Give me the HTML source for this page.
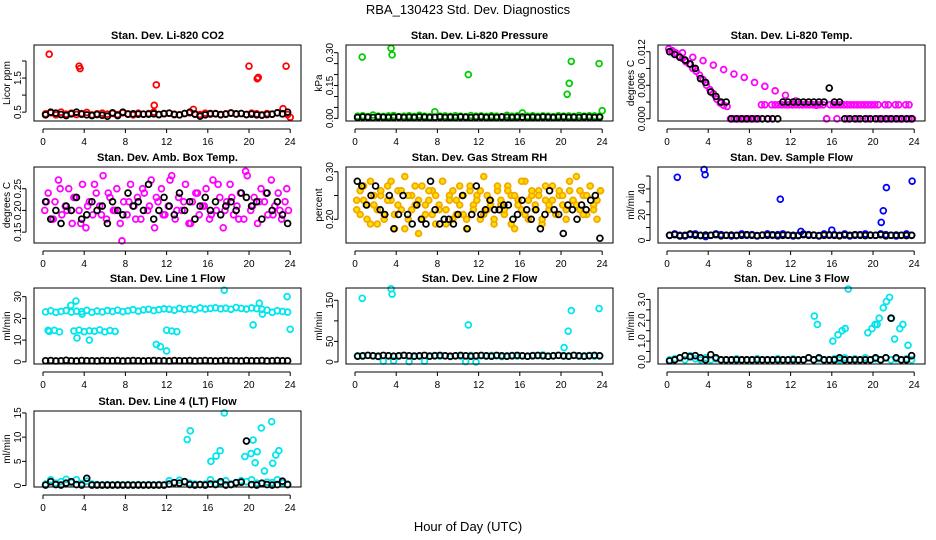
<!DOCTYPE html>
<html><head><meta charset="utf-8"><style>
html,body{margin:0;padding:0;background:#fff;}
svg{display:block;font-family:"Liberation Sans",sans-serif;}
</style></head><body>
<svg id="c" width="936" height="540" viewBox="0 0 936 540" xmlns="http://www.w3.org/2000/svg">
<text x="468" y="14" text-anchor="middle" font-size="13">RBA_130423  Std. Dev. Diagnostics</text>
<text x="468" y="531" text-anchor="middle" font-size="13">Hour of Day (UTC)</text>
</svg>
<script>
// ---- data (uniformly sampled over 0-24 h unless x given) ----
const co2Red=[0.45,0.48,0.42,0.5,0.44,0.47,0.43,0.46,0.49,0.42,0.45,0.47,0.44,0.46,0.43,0.48,0.45,0.42,0.47,0.44,0.46,0.5,0.43,0.45,0.47,0.44,0.42,0.46,0.48,0.45,0.43,0.47,0.44,0.46,0.42,0.45,0.48,0.44,0.46,0.43,0.47,0.45,0.42,0.46,0.44,0.48,0.45,0.43];
const co2OutX=[0.6,3.5,3.6,11,10.8,20,20.8,20.9,23.6,14.6,23.3,24];
const co2OutY=[2.2,1.85,1.78,1.3,0.7,1.85,1.48,1.52,1.85,0.58,0.6,0.35];
const co2Blk=[0.42,0.5,0.47,0.43,0.4,0.45,0.5,0.44,0.42,0.4,0.43,0.41,0.38,0.48,0.4,0.5,0.44,0.45,0.44,0.44,0.44,0.45,0.43,0.46,0.47,0.43,0.42,0.46,0.5,0.44,0.38,0.42,0.46,0.45,0.43,0.44,0.47,0.45,0.46,0.43,0.44,0.42,0.41,0.43,0.44,0.48,0.45,0.5];
const presGrn=[0.01,0.012,0.008,0.015,0.01,0.009,0.011,0.013,0.008,0.01,0.012,0.009,0.014,0.01,0.008,0.03,0.01,0.011,0.009,0.012,0.01,0.008,0.013,0.01,0.011,0.009,0.012,0.01,0.008,0.014,0.01,0.011,0.025,0.01,0.012,0.009,0.011,0.01,0.008,0.012,0.01,0.011,0.009,0.013,0.01,0.012,0.011,0.01];
const presOutX=[0.7,3.5,3.6,11,20.6,20.8,21,23.7,24];
const presOutY=[0.28,0.32,0.29,0.20,0.11,0.16,0.26,0.25,0.035];
const presBlk=[0.004,0.006,0.005,0.004,0.006,0.005,0.004,0.005,0.006,0.004,0.005,0.004,0.006,0.005,0.004,0.005,0.006,0.004,0.005,0.004,0.006,0.005,0.004,0.005,0.006,0.004,0.005,0.004,0.006,0.005,0.004,0.005,0.006,0.004,0.005,0.004,0.006,0.005,0.004,0.005,0.006,0.004,0.005,0.004,0.006,0.005,0.004,0.005];
const tempMag=[0.0125,0.012,0.0118,0.0112,0.0108,0.0102,0.0098,0.009,0.0085,0.0078,0.007,0.006,0.0052,0.0045,0.0035,0.0028,0.0024,0.0022,0,0,0,0,0,0,0,0,0,0.0025,0.0025,0,0.0025,0.0025,0.0025,0.0025,0.0025,0.0025,0.0025,0.0025,0.0025,0.0025,0.0025,0.0025,0.0025,0.0025,0.0025,0.0025,0,0.0025,0.0025,0.0025,0.0025,0.0025,0.0025,0.0025,0.0025,0.0025,0.0025,0.0025,0.0025,0.0025,0.0025,0.0025,0,0.0025,0.0025,0,0.0025,0.0025,0,0.0025,0.0025,0];
const tempMag2=[0.0122,0.0118,0.011,0.0104,0.0096,0.0088,0.008,0.0074,0.0065,0.0058,0.005,0.0042,0.0032,0.0026,0.0024,0,0,0,0,0,0,0,0,0];
const tempBlk=[0.012,0.0115,0.011,0.0105,0.0098,0.009,0.0072,0.0065,0.0048,0.004,0.003,0.003,0,0,0,0,0,0,0,0,0,0,0.003,0.003,0.003,0.003,0.003,0.003,0.003,0.003,0.003,0.0055,0.003,0.003,0,0,0,0,0,0,0,0,0,0,0,0,0,0];
const ambMag=[0.2,0.24,0.18,0.22,0.27,0.19,0.21,0.25,0.17,0.23,0.2,0.26,0.16,0.22,0.19,0.24,0.21,0.28,0.18,0.23,0.2,0.25,0.17,0.22,0.19,0.26,0.21,0.23,0.18,0.24,0.2,0.27,0.16,0.22,0.25,0.19,0.21,0.28,0.18,0.23,0.2,0.26,0.17,0.22,0.24,0.19,0.21,0.25,0.18,0.27,0.2,0.23,0.16,0.22,0.26,0.19,0.21,0.24,0.18,0.28,0.2,0.23,0.17,0.25,0.22,0.19,0.27,0.21,0.24,0.18,0.22,0.2];
const ambMag2=[0.22,0.18,0.25,0.2,0.23,0.17,0.21,0.26,0.19,0.24,0.2,0.13,0.22,0.18,0.25,0.21,0.23,0.19,0.27,0.2,0.22,0.17,0.24,0.21,0.19,0.26,0.2,0.23,0.18,0.29,0.21,0.22,0.24,0.19,0.2,0.25];
const ambBlk=[0.22,0.18,0.2,0.17,0.21,0.2,0.23,0.18,0.19,0.22,0.2,0.21,0.17,0.22,0.2,0.19,0.24,0.21,0.22,0.2,0.26,0.18,0.2,0.23,0.21,0.19,0.24,0.2,0.22,0.18,0.21,0.23,0.2,0.22,0.19,0.21,0.22,0.2,0.24,0.23,0.21,0.22,0.18,0.24,0.2,0.22,0.19,0.17];
const rhYel=[0.22,0.26,0.24,0.2,0.28,0.23,0.19,0.25,0.21,0.27,0.24,0.18,0.26,0.22,0.29,0.2,0.25,0.23,0.17,0.27,0.21,0.24,0.26,0.19,0.23,0.28,0.22,0.25,0.2,0.24,0.27,0.21,0.18,0.26,0.23,0.25,0.2,0.29,0.22,0.24,0.19,0.26,0.23,0.21,0.27,0.25,0.18,0.24,0.22,0.28,0.2,0.25,0.23,0.26,0.19,0.24,0.22,0.27,0.21,0.25,0.23,0.2,0.26,0.24,0.29,0.22,0.25,0.21,0.27,0.23,0.2,0.26];
const rhYel2=[0.24,0.21,0.27,0.23,0.19,0.25,0.22,0.26,0.2,0.24,0.28,0.21,0.23,0.26,0.18,0.25,0.22,0.27,0.24,0.2,0.23,0.26,0.21,0.25,0.22,0.28,0.19,0.24,0.26,0.21,0.23,0.25,0.2,0.27,0.22,0.24,0.26,0.21,0.25,0.23,0.2,0.27,0.24,0.22,0.26,0.19,0.25,0.23,0.28,0.21,0.24,0.26,0.22,0.25,0.2,0.27,0.23,0.24,0.21,0.26,0.25,0.22,0.28,0.24,0.23,0.26,0.21,0.25,0.27,0.22,0.24,0.26];
const rhBlk=[0.28,0.27,0.23,0.25,0.27,0.22,0.21,0.25,0.18,0.21,0.25,0.21,0.19,0.23,0.2,0.19,0.28,0.22,0.19,0.2,0.2,0.19,0.21,0.25,0.18,0.21,0.27,0.21,0.22,0.24,0.22,0.22,0.23,0.23,0.2,0.21,0.24,0.22,0.2,0.22,0.18,0.21,0.26,0.22,0.21,0.17,0.23,0.22,0.2,0.23,0.22,0.24,0.25,0.16];
const flowBlu=[4,5,4,3.5,4.5,5,4,3,4,5,4.5,4,3.5,4,5,4,4.5,3.5,4,5,4,4.5,5,4,3.5,4,5,4.5,4,3.5,5,4,4.5,4,5,3.5,4,4.5,5,4,4,5,4.5,4,3.5,4,5,4];
const flowOutX=[1,3.6,3.7,11,20.8,21,21.3,23.8,16,13];
const flowOutY=[49,55,51,32,14,23,41,46,8,7];
const flowBlk=[4,4.5,3.5,4,5,4,3.8,4.2,4,4.5,3.6,4,4.2,3.8,4,4.5,4,3.8,4.2,4,4.4,3.6,4,4.2,4,3.8,4.5,4,4.2,3.8,4,4.4,4,3.6,4.2,4,4.5,4,3.8,4.2,4,4.4,3.6,4,4.2,4,3.8,4];
const l1Cyan=[23,23.5,22.8,23.2,23.6,22.9,23.3,23.1,23.7,22.8,23.4,23,23.6,23.2,23.8,23.1,23.5,24,23.3,23.9,24.2,23.6,24,24.4,24.2,23.8,24.6,24.1,24.5,24,24.8,24.3,24.6,24.9,24.4,24.7,24.2,25,24.6,24.3,24.8,24.5,24.2,23.8,22.8,23.5,23.2,22.9];
const l1CyanLow=[14,14.5,13.8,14.2,14.6,13.9,14.3,14.1,14.7,13.8,14.4,14,14.6,14.2,13.9];
const l1LowX=[0.6,1.1,1.6,3,3.5,4,4.5,5,5.5,6,6.5,7,12,12.5,13];
const l1OutX=[0.5,2.7,3.2,3.8,11,11.4,12,17.6,20.4,21,21.3,23.7,24,4.5,3.3];
const l1OutY=[14.5,26,28,22,8,7,5,33,17,27,22,30,15,10,11];
const l1Blk=[0.5,0.6,0.4,0.5,0.7,0.5,0.4,0.6,0.5,0.5,0.4,0.6,0.5,0.5,0.6,0.4,0.5,0.6,0.5,0.4,0.5,0.6,0.5,0.5,0.4,0.6,0.5,0.5,0.6,0.4,0.5,0.6,0.5,0.4,0.5,0.6,0.5,0.5,0.4,0.6,0.5,0.5,0.6,0.4,0.5,0.6,0.5,0.5];
const l2Cyan=[15,14,16,15,13,2,15,3,14,16,1,15,14,2,15,16,14,15,13,15,14,1,16,0,15,14,16,15,13,15,16,14,15,14,16,15,17,14,15,16,14,15,16,14,15,16,14,15];
const l2OutX=[0.7,3.5,3.6,11,20.3,20.7,21,23.7];
const l2OutY=[155,178,165,90,35,75,125,130];
const l2Blk=[14,15,16,15,14,16,15,14,15,16,15,14,15,16,14,15,16,15,14,15,16,15,14,15,16,15,14,16,15,14,15,16,15,14,15,16,15,14,15,16,15,14,16,15,14,15,16,15];
const l3Cyan=[0.1,0.15,0.2,0.1,0.3,0.15,0.1,0.2,0.1,0.15,0.1,0.1,0.1,0.15,0.1,0.1,0.1,0.15,0.1,0.1,0.1,0.15,0.1,0.1,0.15,0.1,0.1,0.2,0.1,0.15,0.1,0.1,0.15,0.1,0.2,0.1,0.15,0.1,0.2,0.1,0.15,0.1,0.2,0.1,0.15,0.1,0.15,0.1];
const l3OutX=[14.3,14.6,16.1,16.6,17,17.3,17.6,19.5,19.9,20.2,20.4,20.6,21,21.3,21.6,21.8,22.1,22.6,22.9,23.4];
const l3OutY=[2.2,1.8,1.0,1.3,1.5,1.6,3.5,1.4,1.6,1.8,1.8,2.1,2.6,2.9,3.1,2.1,1.1,1.6,1.8,0.8];
const l3Blk=[0.05,0.1,0.2,0.3,0.25,0.3,0.2,0.1,0.35,0.2,0.1,0.1,0.1,0.1,0.1,0.1,0.1,0.1,0.1,0.1,0.1,0.1,0.1,0.1,0.1,0.1,0.1,0.2,0.1,0.2,0.1,0.1,0.1,0.2,0.1,0.1,0.1,0.1,0.1,0.1,0.2,0.1,0.2,2.1,0.2,0.1,0.1,0.3];
const l4Cyan=[0.3,1.2,0.5,0.8,1.3,0.6,1.2,0.4,0.9,0.3,0.2,0.1,0.2,0.1,0.2,0.1,0.2,0.1,0.2,0.1,0.2,0.1,0.2,0.1,1,0.6,1.1,0.8,0.5,0.3,0.2,0.3,1.2,0.4,0.5,1,0.3,0.6,1,0.8,1.2,0.5,0.4,0.7,0.6,1.2,0.5,0.3];
const l4OutX=[14,14.3,16.3,16.8,17.2,17.6,19.6,20.2,20.4,20.6,20.8,21.2,21.5,22.2,22.3,22.6,22.9];
const l4OutY=[9.5,11.3,5,6.1,7.2,15,6,6.6,9.4,4.7,7,11.9,3,13.2,4.6,6.3,7.2];
const l4Blk=[0.1,0.8,0.2,0.1,0.5,0.8,0.2,0.1,1.5,0.1,0.1,0.1,0.1,0.1,0.1,0.1,0.1,0.1,0.1,0.1,0.1,0.1,0.1,0.1,0.3,0.6,0.5,0.8,0.2,0.1,0.2,0.1,0.3,0.2,0.8,0.1,0.2,0.6,0.7,9.2,0.2,0.1,0.5,0.2,0.1,0.2,0.9,0.2];
const xTicks=[0,4,8,12,16,20,24];

// ---- layout ----
const svg=document.getElementById('c');
const NS='http://www.w3.org/2000/svg';
const colX=[34,346,658], rowT=[35,157,278,401];
function mk(t,a,p){const e=document.createElementNS(NS,t);for(const k in a)e.setAttribute(k,a[k]);(p||svg).appendChild(e);return e;}
const panels=[
 {t:'Stan. Dev. Li-820 CO2',yl:'Licor ppm',d:[0.24,2.47],ticks:[0.5,1.0,1.5,2.0],labs:['0.5','','1.5',''],s:[[co2Red,null,'#ff0000'],[co2OutY,co2OutX,'#ff0000'],[co2Blk,null,'#000']]},
 {t:'Stan. Dev. Li-820 Pressure',yl:'kPa',d:[-0.012,0.335],ticks:[0,0.05,0.1,0.15,0.2,0.25,0.3],labs:['0.00','','','0.15','','','0.30'],s:[[presGrn,null,'#00cc00'],[presOutY,presOutX,'#00cc00'],[presBlk,null,'#000']]},
 {t:'Stan. Dev. Li-820 Temp.',yl:'degrees C',d:[-0.0004,0.0132],ticks:[0,0.003,0.006,0.009,0.012],labs:['0.000','','0.006','','0.012'],s:[[tempMag,null,'#ff00ff'],[tempMag2,null,'#ff00ff'],[tempBlk,null,'#000']]},
 {t:'Stan. Dev. Amb. Box Temp.',yl:'degrees C',d:[0.125,0.3],ticks:[0.15,0.2,0.25],labs:['0.15','0.20','0.25'],s:[[ambMag,null,'#ff00ff'],[ambMag2,null,'#ff00ff'],[ambBlk,null,'#000']]},
 {t:'Stan. Dev. Gas Stream RH',yl:'percent',d:[0.15,0.31],ticks:[0.2,0.25,0.3],labs:['0.20','','0.30'],s:[[rhYel,null,'#f3a800','#ffe000'],[rhYel2,null,'#f3a800','#ffe000'],[rhBlk,null,'#000']]},
 {t:'Stan. Dev. Sample Flow',yl:'ml/min',d:[-2,57],ticks:[0,10,20,30,40,50],labs:['0','','20','','40',''],s:[[flowBlu,null,'#0000ff'],[flowOutY,flowOutX,'#0000ff'],[flowBlk,null,'#000']]},
 {t:'Stan. Dev. Line 1 Flow',yl:'ml/min',d:[-1,34],ticks:[0,10,20,30],labs:['0','10','20','30'],s:[[l1Cyan,null,'#00e5ee'],[l1CyanLow,l1LowX,'#00e5ee'],[l1OutY,l1OutX,'#00e5ee'],[l1Blk,null,'#000']]},
 {t:'Stan. Dev. Line 2 Flow',yl:'ml/min',d:[-5,180],ticks:[0,50,100,150],labs:['0','50','','150'],s:[[l2Cyan,null,'#00e5ee'],[l2OutY,l2OutX,'#00e5ee'],[l2Blk,null,'#000']]},
 {t:'Stan. Dev. Line 3 Flow',yl:'ml/min',d:[-0.1,3.55],ticks:[0,0.5,1,1.5,2,2.5,3],labs:['0.0','','1.0','','2.0','','3.0'],s:[[l3Cyan,null,'#00e5ee'],[l3OutY,l3OutX,'#00e5ee'],[l3Blk,null,'#000']]},
 {t:'Stan. Dev. Line 4 (LT) Flow',yl:'ml/min',d:[-0.3,15.4],ticks:[0,5,10,15],labs:['0','5','10','15'],s:[[l4Cyan,null,'#00e5ee'],[l4OutY,l4OutX,'#00e5ee'],[l4Blk,null,'#000']]}
];
panels.forEach((p,i)=>{
 const L=colX[i%3], T=rowT[Math.floor(i/3)]+10, W=267, H=76, B=T+H;
 const g=mk('g',{});
 
 
 const xs=h=>L+9+h*10.3;
 const ys=v=>B-(v-p.d[0])/(p.d[1]-p.d[0])*H;
 const tt=mk('text',{x:L+W/2,y:T-6,'text-anchor':'middle','font-size':11,'font-weight':'bold'},g);tt.textContent=p.t;
 
 
 const yl=mk('text',{x:0,y:0,'text-anchor':'middle','font-size':10,transform:`translate(${L-24},${T+H/2}) rotate(-90)`},g);yl.textContent=p.yl;
 
 
 p.s.forEach(([ys_,xs_,col,fill])=>{
  const n=ys_.length;
  ys_.forEach((v,k)=>{
   const h=xs_?xs_[k]:(k+0.5)*24/n;
   const c=mk('circle',{cx:xs(h),cy:ys(v),r:2.9,fill:fill||'none',stroke:col,'stroke-width':1.8},g);
   
   
  });
 });
 const box=mk('rect',{x:L,y:T,width:W,height:H,fill:'none',stroke:'#000','stroke-width':1},g);
 
 
 mk('line',{x1:xs(0),x2:xs(24),y1:B+8,y2:B+8,stroke:'#000'},g);
 xTicks.forEach(t=>{
  mk('line',{x1:xs(t),x2:xs(t),y1:B+8,y2:B+12,stroke:'#000'},g);
  const tx=mk('text',{x:xs(t),y:B+24,'text-anchor':'middle','font-size':10},g);tx.textContent=t;
  
  
 });
 mk('line',{x1:L-8,x2:L-8,y1:ys(p.ticks[0]),y2:ys(p.ticks[p.ticks.length-1]),stroke:'#000'},g);
 p.ticks.forEach((t,k)=>{
  mk('line',{x1:L-12,x2:L-8,y1:ys(t),y2:ys(t),stroke:'#000'},g);
  if(p.labs[k]){const tx=mk('text',{x:0,y:0,'text-anchor':'middle','font-size':10,transform:`translate(${L-13},${ys(t)}) rotate(-90)`},g);tx.textContent=p.labs[k];
   
   }
 });
});
</script>
</body></html>
